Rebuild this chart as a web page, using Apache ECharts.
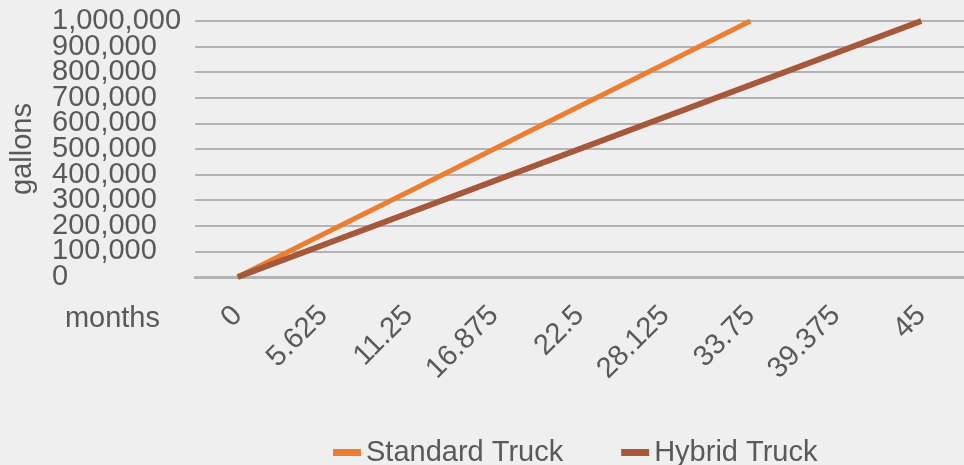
<!DOCTYPE html>
<html>
<head>
<meta charset="utf-8">
<script src="https://cdn.jsdelivr.net/npm/echarts@6/dist/echarts.min.js"></script>
<style>
  html, body { margin: 0; padding: 0; background: #efefef; }
  #chart { width: 964px; height: 465px; }
</style>
</head>
<body>
<div id="chart"></div>
<script>
// Months on the horizontal axis
const months = ['0', '5.625', '11.25', '16.875', '22.5', '28.125', '33.75', '39.375', '45'];
// Cumulative fuel use in gallons
const standardTruck = [0, 166667, 333333, 500000, 666667, 833333, 1000000, null, null];
const hybridTruck = [0, 125000, 250000, 375000, 500000, 625000, 750000, 875000, 1000000];
const yTicks = { min: 0, max: 1000000, interval: 100000 };

const font = 'Liberation Sans, Arial, sans-serif';
const textColor = '#595959';

// The tick labels sit closer together than their text height, so they are
// split over two overlaid value axes (even and odd steps) to keep all of them.
const step = yTicks.interval;
const fmt = v => v.toLocaleString('en-US');
const evenLabel = v => (Math.round(v / step) % 2 === 0 ? fmt(v) : '');
const oddLabel = v => (Math.round(v / step) % 2 === 1 ? fmt(v) : '');

function valueAxis(formatter, withGrid, withName) {
  return {
    type: 'value',
    position: 'left',
    min: yTicks.min,
    max: yTicks.max,
    interval: yTicks.interval,
    name: withName ? 'gallons' : '',
    nameLocation: 'middle',
    nameGap: 158,
    nameTextStyle: { fontFamily: font, fontSize: 29, color: textColor },
    axisLine: { show: false },
    axisTick: { show: false },
    axisLabel: {
      align: 'left',
      margin: 143,
      showMinLabel: true,
      showMaxLabel: true,
      fontFamily: font,
      fontSize: 29,
      color: textColor,
      formatter: formatter
    },
    splitLine: { show: withGrid, lineStyle: { color: '#b3b3b3', width: 2 } }
  };
}

const chart = echarts.init(document.getElementById('chart'));
chart.setOption({
  backgroundColor: '#efefef',
  animation: false,
  grid: { left: 195, width: 773, top: 21, bottom: 188, containLabel: false },
  legend: {
    top: 433,
    left: 328,
    icon: 'rect',
    itemWidth: 28,
    itemHeight: 7,
    itemGap: 58,
    textStyle: { fontFamily: font, fontSize: 29, color: textColor },
    data: ['Standard Truck', 'Hybrid Truck']
  },
  xAxis: {
    type: 'category',
    data: months,
    boundaryGap: true,
    name: 'months',
    nameLocation: 'start',
    nameGap: 35,
    nameTextStyle: {
      fontFamily: font, fontSize: 29, color: textColor,
      verticalAlign: 'top', padding: [27, 0, 0, 0]
    },
    axisLine: { show: true, lineStyle: { color: '#b3b3b3', width: 3 } },
    axisTick: { show: false },
    axisLabel: {
      rotate: 45,
      margin: 34,
      fontFamily: font,
      fontSize: 29,
      color: textColor
    },
    splitLine: { show: false }
  },
  yAxis: [
    valueAxis(evenLabel, true, true),
    valueAxis(oddLabel, false, false)
  ],
  series: [
    {
      name: 'Standard Truck',
      type: 'line',
      yAxisIndex: 0,
      data: standardTruck,
      symbol: 'none',
      connectNulls: false,
      lineStyle: { color: '#ed7d31', width: 5 },
      itemStyle: { color: '#ed7d31' }
    },
    {
      name: 'Hybrid Truck',
      type: 'line',
      yAxisIndex: 0,
      data: hybridTruck,
      symbol: 'none',
      lineStyle: { color: '#a5583a', width: 6 },
      itemStyle: { color: '#a5583a' }
    }
  ]
});
</script>
</body>
</html>
